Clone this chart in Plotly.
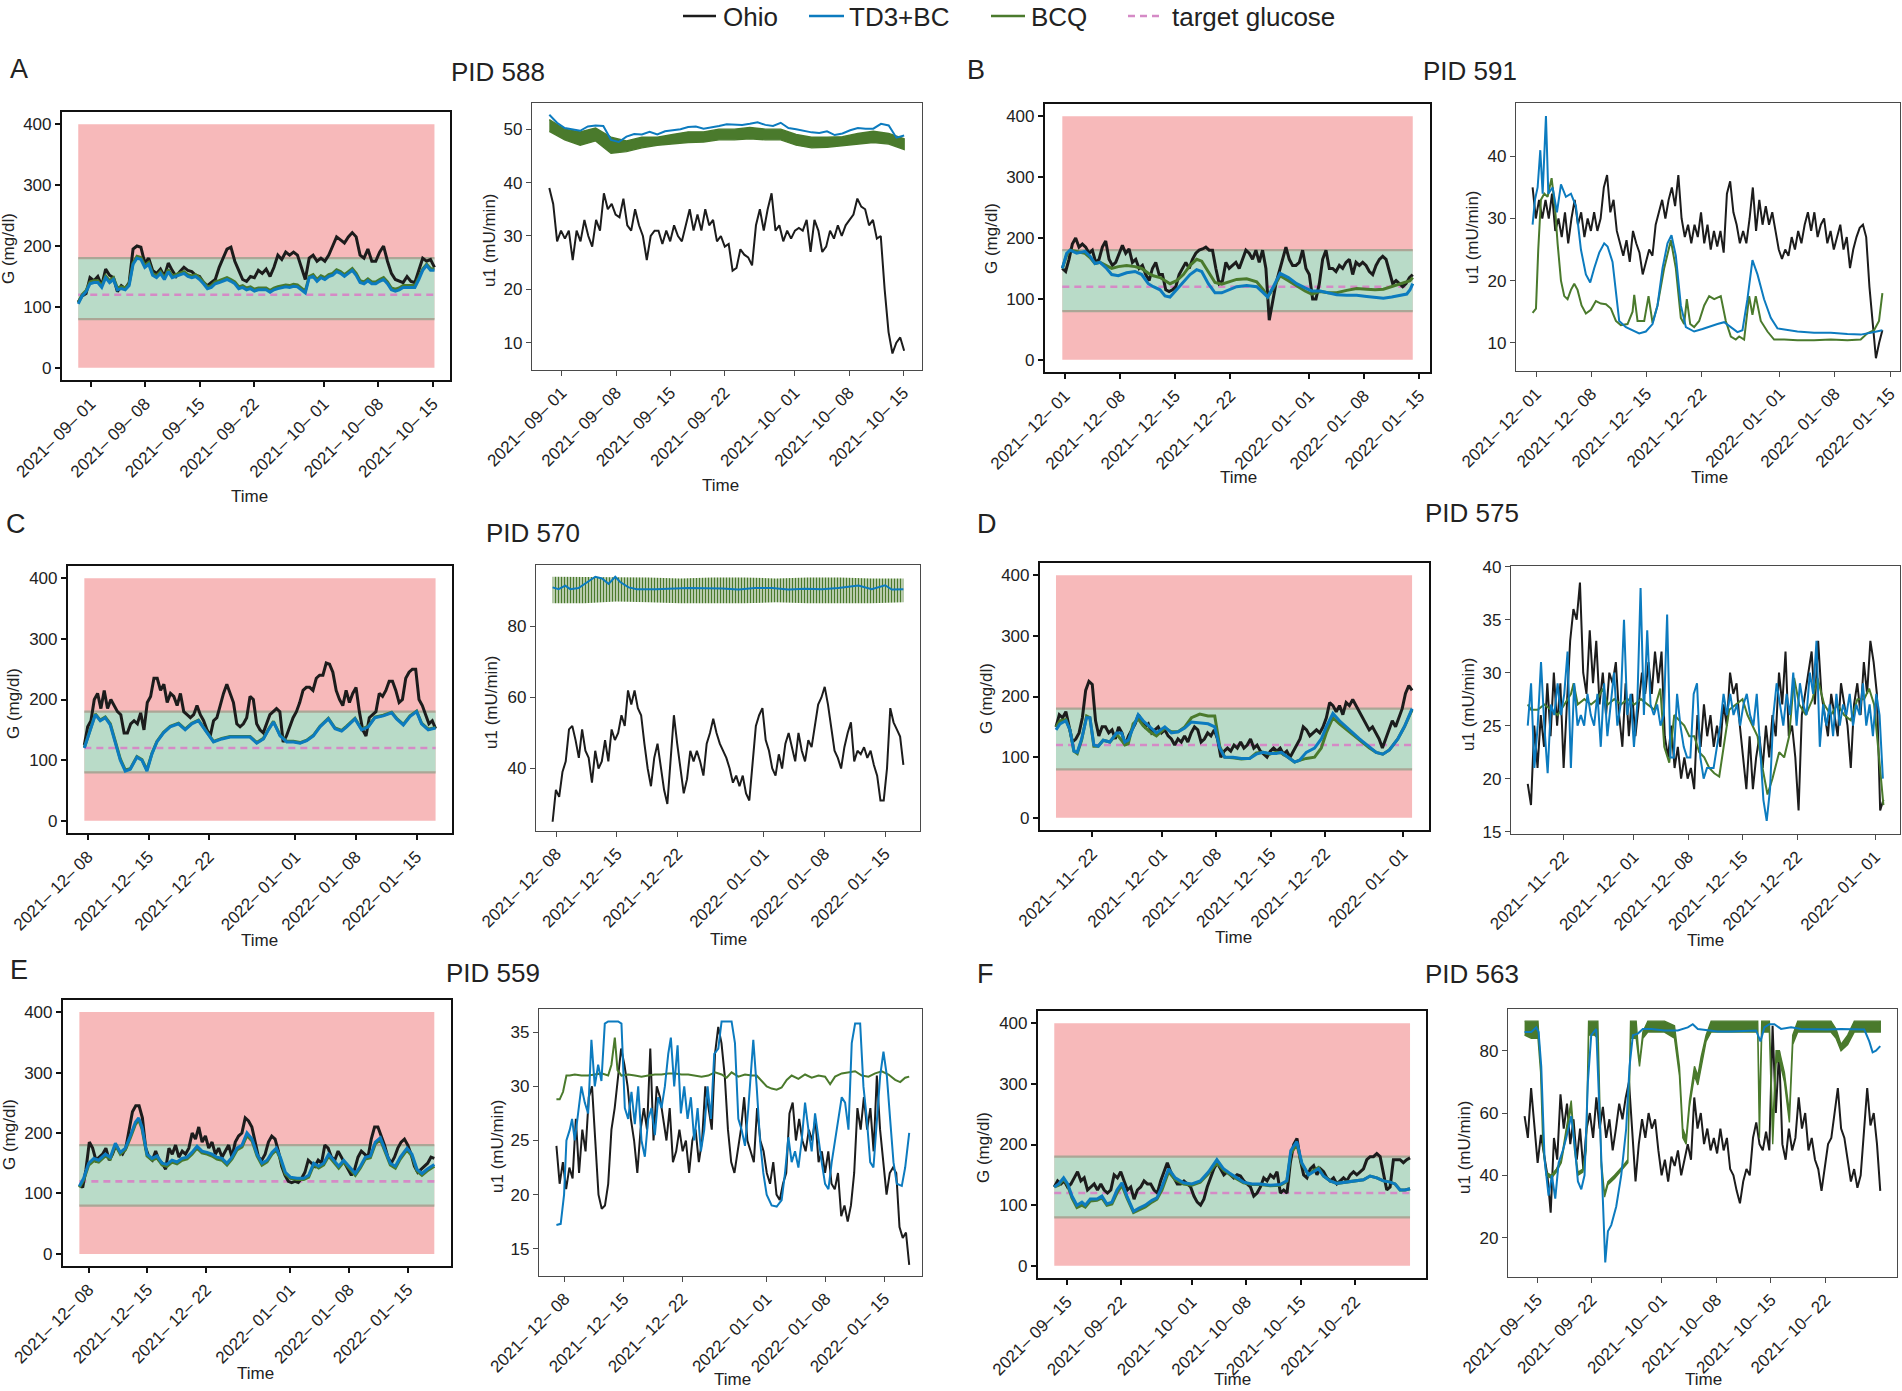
import numpy as np
import pandas as pd
import plotly.graph_objects as go

# ======================= DATA =======================
TARGET_G = 120          # target glucose (mg/dl)
G_SAFE = (80, 180)      # safe glucose band
G_FULL = (0, 400)       # glucose range shaded

# ---------- Panel A : PID 588 ----------
A_base = "2021-09-01"
A_ticks = ["2021-09-01", "2021-09-08", "2021-09-15", "2021-09-22", "2021-10-01", "2021-10-08", "2021-10-15"]
A_G_span = (-1.6, 44.2)
A_G_ohio = [108,118,122,148,143,150,135,162,152,148, 125,135,130,140,195,200,198,172,180,160,
            155,162,150,172,160,150,158,165,160,158, 152,150,140,135,140,145,165,180,195,198,
            175,160,145,142,150,148,160,155,162,150, 165,185,178,190,185,190,185,165,145,180,
            185,175,180,175,185,200,215,210,205,215, 222,215,185,180,195,175,175,190,200,175,
            155,145,142,140,150,142,140,160,180,175, 178,165]
A_G_td3 = [105,118,125,138,140,140,132,148,140,145, 128,130,128,135,170,180,178,165,170,152,
           148,155,145,158,148,150,152,155,150,148, 150,145,138,130,132,138,140,142,145,142,
           138,130,132,128,130,126,128,128,128,124, 128,130,132,133,132,134,133,128,123,148,
           150,142,148,145,150,152,158,155,150,155, 160,152,140,138,143,138,138,142,145,138,
           128,126,128,132,132,132,132,145,160,168, 160,160]
A_G_bcq = [107,120,127,141,143,143,135,151,143,148, 131,133,131,138,172,183,181,168,173,155,
           151,158,148,161,151,153,155,158,153,151, 153,148,141,133,135,141,143,145,148,145,
           141,133,135,131,133,129,131,131,131,127, 131,133,135,136,135,137,136,131,126,150,
           153,145,151,148,153,155,161,158,153,158, 163,155,143,141,146,141,141,145,148,141,
           131,129,131,135,135,135,135,148,162,170, 163,162]
A_U_span = (-1.6, 44.1)
A_U_ohio = [39,36,29,31,29.5,31,25.5,31,29,33, 30,28,33,31,38,35,36,34,33.5,37,
            32,31,35,32,30,25.5,30,31,31,28.5, 31,29,32,30,29,32,35,31,34,31,
            35,32,33,29,30,28,28.5,23.5,24,27.5, 26.5,26,24.5,32,35,31,35,38,31,32,
            29,31,29.5,31,31.5,31,33,27,33,31, 27,28,31,29.5,32,30,32,33,34,37,
            35.5,35,32,33,29.5,30,20,12,8,10, 11,8.5]
A_U_td3 = [52.7,51.2,50.2,50.0,49.7,50.5,50.7,50.6,48.0,47.6, 48.6,49.1,49.0,49.5,49.0,49.6,49.8,50.0,50.4,50.5,
           50.1,50.3,50.6,50.9,50.9,50.8,51.0,51.3,50.8,50.6, 51.2,50.2,50.0,49.7,49.4,49.3,49.6,48.9,49.2,49.8,
           50.2,50.1,50.1,51.0,50.7,48.4,48.8]
A_U_bcq_hi = [51.8,50.0,49.5,50.2,48.5,47.8,48.5,48.5,49.0,49.5,49.5,50.0,50.0,50.3,50.0,50.0,49.0,48.5,48.5,48.6,49.2,49.6,49.2,48.2]
A_U_bcq_lo = [49.6,48.0,47.0,47.8,45.5,45.8,46.5,47.0,47.2,47.5,47.6,48.0,48.0,48.2,48.0,48.0,47.0,46.5,46.6,46.8,47.2,47.5,47.2,46.2]

# ---------- Panel B : PID 591 ----------
B_base = "2021-12-01"
B_ticks = ["2021-12-01", "2021-12-08", "2021-12-15", "2021-12-22", "2022-01-01", "2022-01-08", "2022-01-15"]
B_G_span = (-0.34, 44.16)
B_G_ohio = [150,145,165,190,200,185,190,185,175,180, 160,165,185,195,165,155,160,175,188,175,
            182,160,165,150,155,140,130,150,160,140, 140,115,112,115,120,140,150,160,150,165,
            175,180,182,185,180,180,150,125,130,160, 150,155,160,150,165,180,175,165,180,160,
            180,150,65,95,125,145,165,185,165,155, 155,160,180,150,140,100,100,125,165,180,
            150,150,145,155,150,160,165,140,160,155, 160,155,145,140,155,165,170,165,145,125,
            130,125,120,125,135,140]
B_G_t = [-0.34,0.21,0.64,1.48,2.54,3.18,3.81,4.45,5.29,5.93, 6.77,7.83,8.89,9.74,10.58,11.22,12.07,12.70,13.34,14.18,
         15.03,15.88,16.72,17.36,18.20,19.05,19.90,20.74,21.80,23.07, 24.34,25.19,25.74,26.46,27.31,28.37,29.42,30.48,31.33,32.39,
         33.45,34.50,35.77,37.04,38.31,39.37,40.43,41.49,42.55,43.40, 43.82,44.16]
B_G_td3 = [150,175,180,175,178,170,158,160,150,140, 138,143,145,140,125,120,115,105,103,115,
           128,140,148,145,125,110,110,115,120,122, 120,110,103,120,142,135,125,118,113,113,
           110,107,106,106,104,102,101,103,106,108, 115,125]
B_G_bcq = [150,172,180,178,175,168,158,160,155,150, 153,155,153,150,142,138,135,130,125,130,
           140,155,165,162,145,127,124,128,132,133, 128,115,103,118,138,130,122,113,108,112,
           110,110,114,117,116,115,116,120,125,128, 130,135]
B_U_span = (-0.47, 44.03)
B_U_ohio = [35,30,33,30,33,30,34,28,30,27, 31,26,30,33,29,31,27,30,28,31,
            28,30,35,37,31,33,28,26,24,26.5, 23,28,26,24.5,21,23,25,24,29,31,
            33,30,33,35,32,37,30,27,29,26, 29,27,31,26,29,25,28,25.5,28,24.5,
            34,36,31,29,26,28,26,30,35,28, 33,29,32,29,31,28,25,23.5,25,24,
            27,25,28,26,29,31,28,31,27,29, 30,26,28,25,27,29,25,27,22,25,
            27,28.5,29,27,19,13,7.5,10,12]
B_U_td3_t = [-0.47,-0.17,0.17,0.51,0.81,1.23,1.53,2.08,2.63,3.14, 3.77,4.41,5.04,5.68,6.31,6.86,7.37,8.01,8.64,9.07,
             9.70,10.13,10.55,11.40,12.25,13.09,13.94,14.79,15.42,16.06, 16.69,17.20,17.75,18.39,19.03,20.08,21.14,22.20,23.05,23.90,
             24.75,25.59,26.23,26.86,27.50,28.14,28.98,29.83,30.68,31.95, 33.22,35.34,37.46,39.58,41.27,42.54,44.03]
B_U_td3 = [29,33,35,41,34,46.5,34,35,31,35.5, 33.5,34,32,25,21,19.7,22,24.5,26,25.5,
           23,18,13.5,12.5,12,11.5,11.8,13,16,22, 26,27.3,24,16,12.5,11.8,12.2,12.7,13,13.3,
           12.5,11.7,12,17,23.3,21,17,14,12.3,12, 11.8,11.6,11.6,11.4,11.3,11.6,12]
B_U_bcq_t = [-0.47,-0.04,0.25,0.59,1.02,1.44,1.95,2.37,2.71,3.14, 3.56,3.98,4.41,4.83,5.25,5.76,6.31,6.95,7.58,8.22,
             8.86,9.49,10.13,10.76,11.61,12.25,12.46,12.88,13.73,14.28, 14.79,15.42,16.27,17.12,17.75,18.39,18.81,19.15,19.58,20.08,
             20.72,21.36,21.99,22.63,23.47,24.11,24.75,25.38,25.81,26.44, 27.08,27.50,27.92,28.56,29.41,30.25,31.53,33.22,35.34,37.46,
             39.58,41.27,42.12,42.97,43.60,44.03]
B_U_bcq = [14.8,15.5,25,33,34,33.5,36.5,32,26,20, 17.5,17,18.5,19.5,18.5,16,14.7,15.3,16.7,16.3,
           16.2,15.5,13.5,12.8,13,15,17.7,13.5,13.5,17.5, 13.2,16,22,26.5,22,14,13,17,13,12.5,
           13.5,16,17.5,17,17.5,13.5,11,10.5,11,10.5, 17.5,14.5,17.5,13.5,11.8,10.5,10.5,10.4,10.4,10.5,
           10.4,10.5,11.5,12,13.5,18]

# ---------- Panel C : PID 570 ----------
C_base = "2021-12-08"
C_ticks = ["2021-12-08", "2021-12-15", "2021-12-22", "2022-01-01", "2022-01-08", "2022-01-15"]
C_G_span = (-0.42, 40.2)
C_G_ohio = [125,155,165,200,210,185,215,185,200,190, 180,175,145,145,160,165,160,178,150,195,
            205,235,235,215,225,195,210,205,190,210, 180,175,170,175,190,175,165,150,140,165,
            170,190,210,225,210,195,160,155,160,170, 205,200,160,150,145,160,175,180,185,180,
            130,140,155,170,180,195,215,220,220,215, 235,240,240,260,258,245,215,200,190,215,
            195,210,220,180,150,140,170,175,180,210, 205,215,230,230,215,195,200,235,245,250,
            250,200,190,175,160,165,152]
C_G_t = [-0.42,0.27,0.85,1.42,2.00,2.58,3.16,3.74,4.31,4.89, 5.66,6.24,6.82,7.39,7.97,8.74,9.51,10.47,11.24,12.01,
         12.78,13.55,14.52,15.48,16.44,17.60,18.75,19.52,20.29,20.87, 21.45,22.22,22.99,23.76,24.53,25.30,26.07,26.84,27.80,28.57,
         29.34,29.92,30.88,31.65,32.42,33.19,34.15,35.12,35.69,36.47, 37.24,38.01,38.58,39.35,40.20]
C_G_td3 = [120,150,175,165,170,158,130,100,82,85, 105,100,82,110,130,145,155,160,150,160,
           165,150,130,135,138,138,138,128,135,150, 163,140,130,130,128,132,140,155,168,152,
           148,155,168,150,155,170,173,178,168,158, 172,180,160,150,153]
C_G_bcq = [121,152,176,166,171,160,132,102,84,86, 106,101,84,111,131,146,156,161,151,161,
           166,151,131,136,139,139,139,129,136,151, 164,141,131,131,129,133,141,156,169,153,
           149,156,169,151,156,171,174,179,169,159, 173,181,161,151,154]
C_U_span = (-0.42, 40.12)
C_U_ohio = [25,34,32,39,42,51,52,48,43,51, 45,43,36,45,40,42,48,42,51,48,
            50,55,52,62,58,62,57,55,47,40, 35,43,47,40,34,30,42,55,47,40,
            33,37,45,42,45,42,38,47,50,54, 50,47,45,43,40,36,38,35,38,33,
            31,42,52,55,57,48,45,40,38,44, 40,47,50,46,42,50,45,42,48,46,
            52,58,60,63,58,52,45,43,40,46, 50,53,42,45,44,46,43,45,41,38,
            31,31,40,57,53,51,49,41]
C_U_td3_t = [-0.42,0.27,1.04,1.62,2.58,3.54,4.51,5.28,6.05,6.82,7.39,8.36,9.32,11.44,15.29,19.14,21.06,22.99,24.91,26.84,28.76,30.69,32.61,34.93,36.46,38.01,38.78,40.12]
C_U_td3 = [91,90.5,91.5,90.5,90.8,92.5,94,93.5,92,94,92.5,91,90.5,90.5,90.8,90.7,90.4,90.8,90.8,90.4,90.6,90.5,90.8,91.5,90.5,91.6,90.4,90.5]
C_U_bcq_hi = [94,94,94,93.8,93.5,93.8,93.8,93.5,93.8,93.8,93.5,93.5]
C_U_bcq_lo = [86.5,86.5,87,86.8,86.5,86.5,86.5,86.8,86.5,86.5,86.5,86.8]

# ---------- Panel D : PID 575 ----------
D_base = "2021-11-22"
D_ticks = ["2021-11-22", "2021-12-01", "2021-12-08", "2021-12-15", "2021-12-22", "2022-01-01"]
D_G_span = (-4.67, 41.2)
D_G_ohio = [150,170,165,175,150,125,130,140,165,210, 225,220,160,135,150,150,140,145,130,150,
            140,120,135,145,155,170,160,150,155,140, 145,150,140,145,135,130,120,130,125,135,
            125,140,150,145,125,130,140,135,145,130, 100,110,115,110,120,115,125,115,120,130,
            115,120,110,105,100,110,115,110,115,105, 110,100,110,120,130,150,145,135,140,145,
            140,150,165,190,185,175,185,170,190,185, 195,185,175,165,155,145,150,140,130,115,
            130,145,160,150,165,180,205,218,210]
D_G_t = [-4.67,-4.16,-3.39,-2.87,-2.36,-1.93,-1.37,-0.73,-0.30,0.21, 0.77,1.41,2.27,3.13,3.77,4.20,4.63,5.27,5.92,6.56,
         7.42,8.27,9.35,10.20,11.06,11.92,12.78,13.85,14.92,15.78, 16.42,17.06,18.13,19.21,20.28,21.14,21.99,22.85,23.71,24.35,
         25.21,26.07,26.71,27.57,28.64,29.50,30.14,31.00,31.85,33.14, 34.43,35.71,36.57,37.43,38.28,39.36,40.21,41.20]
D_G_td3 = [145,155,160,145,110,108,130,165,165,120, 118,128,125,140,140,125,128,150,170,160,
           150,140,150,140,142,148,158,157,155,150, 115,100,100,98,98,105,108,106,106,108,
           100,92,95,108,115,130,150,172,160,145, 130,117,108,105,112,130,150,180]
D_G_bcq = [150,160,162,145,110,106,128,168,165,118, 118,128,125,138,128,120,122,155,163,152,
           142,135,148,142,142,150,165,171,168,168, 118,100,99,97,98,107,108,105,108,107,
           100,92,95,98,100,115,140,165,155,142, 128,115,108,105,112,130,150,178]
D_U_span = (-4.62, 41.07)
D_U_ohio = [19.5,17.5,25,21,26,23,29,24,30,25, 29,21,27,33,36,35,38.5,30,28,34,
            29,33,27,30,26,30,29,31,26,23, 29,24,28,24,27,30,28,31,28,32,
            29,32,24,22,25,21,23,20,22,20, 21,19,26,23,27,24,26,23,25,23,
            27,25,30,28,29,25,22,19,24,19, 22,24,21,25,22,26,24,30,27,32,
            24,25,22,17,26,28,30,32,27,33, 28,26,24,28,26,24,29,27,25,21,
            27,29,26,31,28,33,31,28,17,18]
D_U_td3_span = (-4.62, 41.0)
D_U_td3 = [25,29,21,25,31,25,20.5,27,26,29, 26,28,32,21,29,25,26,25,28,26,
           25,28,23,29,24,27,30,25,27,35, 26,28,23,27,38,26,34,27,26,27,
           25,26,35.5,22,22,28,25,23,22,22, 28,29,22,20,21,21,21,23,25,28,
           26,28,26,27,25,27,28,26,25,28, 23,18,16,19,26,29,27,25,28,26,
           30,25,29,27,26,30,28,33,23,27, 25,27,24,28,25,27,26,28,25,27,
           26,29,25,27,24,28,26,20]
D_U_bcq_t = [-4.62,-4.19,-3.34,-2.48,-1.63,-0.77,0.09,0.94,1.28,1.80, 2.65,3.51,4.36,5.01,5.65,6.50,7.36,8.21,9.07,9.93,
             10.78,11.64,12.41,12.92,13.56,14.20,14.84,15.49,16.13,16.77, 17.41,18.05,18.70,19.34,19.98,20.62,21.26,22.12,22.97,23.61,
             24.26,24.90,25.54,26.18,26.82,27.68,28.32,28.96,29.60,30.25, 31.10,31.96,32.60,33.46,34.31,35.17,36.02,36.88,37.73,38.59,
             39.23,39.87,40.51,41.07]
D_U_bcq = [27,26.5,26.5,27,26.5,26,27,28,29,27, 27.5,27,27.5,28.5,27,27.5,27,27.5,27,27.5,
           27,26.5,28.5,23,21.5,26,25.5,25,24,24, 22.5,22,21,20.5,20.2,23.5,26.5,27,27.5,26,
           25,24,21,18.5,20,22.5,22,24,29.5,27, 26,27.5,29.5,27,26,27,26,25.5,27.5,27.5,
           28.5,27,22,17.5]

# ---------- Panel E : PID 559 ----------
E_base = "2021-12-08"
E_ticks = ["2021-12-08", "2021-12-15", "2021-12-22", "2022-01-01", "2022-01-08", "2022-01-15"]
E_G_span = (-1.11, 41.18)
E_G_ohio = [115,110,140,185,175,155,160,165,175,155, 165,180,170,165,175,205,235,245,245,225,
            175,160,155,170,155,150,140,175,165,180, 160,170,165,175,200,190,210,185,195,175,
            185,165,175,160,170,180,160,185,195,200, 225,220,210,185,160,155,165,185,195,190,
            170,145,130,120,118,120,118,125,135,155, 150,145,155,150,180,175,160,155,170,160,
            150,140,130,140,160,170,165,160,190,210, 210,195,180,160,150,160,175,185,190,180,
            165,145,135,140,145,150,160,158]
E_G_t = [-1.11,-0.60,0.00,0.60,1.19,1.99,2.58,3.18,3.77,4.37, 4.96,5.56,5.96,6.35,6.95,7.55,8.14,8.74,9.33,9.93,
         10.52,11.12,11.72,12.31,12.91,13.50,14.10,14.69,15.29,15.89, 16.48,17.08,17.67,18.27,18.86,19.46,20.06,20.65,21.25,21.84,
         22.36,22.84,23.43,24.03,24.82,25.62,26.21,26.81,27.40,28.00, 28.59,29.19,29.79,30.38,30.98,31.77,32.37,32.96,33.56,34.15,
         34.75,35.35,35.94,36.54,37.13,37.93,38.52,39.12,39.71,40.31, 41.18]
E_G_td3 = [112,125,150,158,155,165,160,183,168,175, 195,218,225,210,165,158,162,150,148,155,
           152,158,160,168,178,170,168,165,160,158, 150,160,175,180,200,190,165,150,155,168,
           175,160,135,127,125,125,130,150,145,150, 165,155,145,155,145,133,145,160,162,185,
           192,170,150,145,160,175,165,140,133,140, 148]
E_G_bcq = [110,122,147,154,152,162,157,180,165,172, 192,214,222,207,162,155,159,147,145,152,
           149,155,157,165,175,167,165,162,157,155, 147,157,172,177,196,187,162,147,152,165,
           172,157,132,125,123,123,127,147,142,147, 162,152,142,152,142,130,142,157,159,182,
           189,167,147,142,157,172,162,137,130,137, 145]
E_U_span = (-0.99, 40.94)
E_U_ohio = [24.5,21,23,20.5,22.5,21.5,27,22,26,24, 29,30,25,20,18.7,19,21,26,28,31,
            33.5,32,30,27,25,22,26,28,26,33.5, 25,30,29,27,25,28,23,24,26,24,
            25,22,25,26,23,25,30,28,26,33, 35.5,34,31,26,23,22,24,26,29,25,
            24,23,28,25,24,22,21,23,20,19.5, 21,22,27.5,28.5,25,27,25,24,26,25,
            27,23,24,22,24,21,20.5,22,18,19, 17.5,19,22,28,26,29,26,28,24,31,
            26,23,20,22,22.5,22,17,16,16.5,13.5]
E_U_td3_t = [-0.99,-0.48,-0.08,0.20,0.60,0.87,1.19,1.59,1.98,2.38, 2.78,3.17,3.57,3.97,4.36,4.76,5.16,5.75,6.35,6.74,
             7.14,7.54,7.93,8.33,8.73,9.12,9.52,9.92,10.31,10.71, 11.11,11.50,11.90,12.30,12.61,13.01,13.41,13.80,14.20,14.60,
             14.99,15.39,15.79,16.18,16.58,16.98,17.37,17.77,18.25,18.64, 19.24,19.83,20.23,20.63,21.02,21.42,21.82,22.41,22.81,23.21,
             23.60,24.00,24.59,25.19,25.78,26.18,26.58,26.97,27.37,27.77, 28.16,28.56,28.96,29.35,29.75,30.15,30.54,30.94,31.34,31.73,
             32.13,32.53,32.92,33.32,33.72,34.11,34.51,35.11,35.50,35.90, 36.30,36.69,37.09,37.49,37.88,38.28,38.67,39.07,39.47,40.06,
             40.46,40.94]
E_U_td3 = [17.2,17.3,20,25,26,27,25,27.5,30,28.5, 27.5,34.3,30,32,30.5,35.8,36,36,36,35.8,
           28,27,29.5,26.5,30,25,23.5,27,28,25.5, 29,28,30,33,34.5,30,33.8,27.5,30,27,
           29,25,28,24,26,30,27,33,33.5,36, 36,36,34,27,26,24.5,28,34.3,30,25,
           22,20,19,18.9,19.5,22,25.3,23,24,22.5, 25,28.5,26,24,27.5,25,23,21,20.5,23,
           25,27,29,28.5,26,34,35.8,35.8,30,27, 23,22.5,27,31,33.2,31,27,23,21,20.8,
           22.5,25.7]
E_U_bcq_t = [-0.99,-0.60,-0.20,0.20,0.60,1.19,1.98,2.78,3.57,4.36, 5.16,5.55,5.95,6.27,6.74,7.54,8.33,9.12,9.92,10.71,
             11.50,12.30,13.09,13.88,14.68,15.47,16.26,17.06,17.85,18.64, 19.24,19.83,20.63,21.42,22.21,22.81,23.40,24.00,24.59,25.19,
             25.78,26.38,26.97,27.77,28.56,29.35,30.15,30.94,31.54,32.13, 32.92,33.72,34.51,35.30,36.10,36.89,37.68,38.48,39.27,39.87,
             40.46,40.94]
E_U_bcq = [28.8,28.8,29.5,31,31,31.1,31,31,31.1,31.2, 31,32,34.5,31.5,31,31.1,31,30.9,31,31.1,
           31.1,31.2,31.2,31.1,31.1,31,30.9,31,31.3,31.1, 30.8,31.3,30.9,31.1,31,31,30.5,30,29.8,29.7,
           29.9,30.6,31,30.7,31.1,30.8,31,30.9,30.2,30.9, 31.2,31.3,31.4,31,30.9,31.2,31.4,31.1,30.6,30.4,
           30.8,30.9]

# ---------- Panel F : PID 563 ----------
F_base = "2021-09-15"
F_ticks = ["2021-09-15", "2021-09-22", "2021-10-01", "2021-10-08", "2021-10-15", "2021-10-22"]
F_G_span = (-1.63, 44.05)
F_G_ohio = [130,140,135,140,130,135,145,155,140,145, 125,130,135,125,135,125,120,125,150,145,
            155,140,125,130,110,125,130,140,135,135, 125,120,140,155,170,155,145,135,135,140,
            135,130,115,105,100,110,130,145,160,170, 160,150,155,150,145,150,148,140,135,130,
            115,120,130,145,140,150,145,155,120,125, 120,170,200,210,175,150,145,160,165,150,
            160,155,145,140,145,135,140,145,140,150, 155,150,155,160,175,180,180,185,180,150,
            125,130,175,175,175,170,175,178]
F_G_t = [-1.63,-1.07,-0.43,0.09,0.64,1.28,1.92,2.35,2.99,3.85, 4.49,5.13,5.77,6.42,7.06,7.70,8.55,9.20,10.05,10.91,
         11.55,12.19,13.05,13.90,14.97,16.04,17.11,18.18,19.25,20.10, 20.96,21.81,22.67,23.74,24.81,26.09,27.37,28.23,28.74,29.51,
         30.15,31.01,31.65,32.29,32.93,33.79,34.65,35.93,37.21,38.07, 38.92,39.78,40.63,41.49,42.13,42.77,43.41,44.05]
F_G_td3 = [130,135,145,135,115,100,105,100,110,110, 115,102,105,125,137,115,90,95,100,108,
           112,130,160,145,137,135,140,155,175,160, 152,145,138,135,135,133,134,140,190,205,
           170,150,155,160,148,140,136,138,140,142, 148,145,140,138,135,125,125,127]
F_G_bcq = [130,133,143,133,112,96,100,97,107,108, 112,100,102,120,133,112,88,92,97,105,
           110,125,155,142,135,133,138,152,170,158, 150,143,137,134,134,132,133,139,185,200,
           168,150,157,162,148,140,136,138,140,142, 148,145,140,138,135,125,125,127]
F_U_span = (-1.63, 44.05)
F_U_ohio = [59,52,68,55,44,53,46,40,28,52, 45,66,55,63,50,58,45,55,42,55,
            60,52,65,55,62,52,58,48,55,63, 58,65,70,55,38,50,58,52,60,55,
            58,48,40,45,38,46,43,48,40,45, 50,45,65,55,60,50,55,48,52,47,
            55,48,52,42,40,35,31,38,42,40, 52,57,50,48,54,48,88,60,80,50,
            45,55,48,52,65,55,60,48,52,45, 42,35,42,50,52,60,68,55,52,45,
            38,42,36,40,55,68,56,60,50,35]
F_U_td3_t = [-1.63,-0.77,-0.13,0.17,0.51,0.94,1.45,1.88,2.31,2.74, 3.29,3.72,4.36,4.79,5.22,5.65,6.07,6.50,6.93,7.57,
             8.00,8.43,8.73,9.07,9.50,10.14,10.78,11.42,11.85,12.28, 12.92,13.56,14.63,16.34,18.05,19.33,19.97,20.62,21.90,23.18,
             24.89,26.60,28.10,28.66,29.17,29.81,30.45,31.31,32.59,33.87, 35.59,37.30,39.01,40.72,42.00,42.64,43.07,43.50,44.05]
F_U_td3 = [86,86,87.5,86,75,45,33.5,40,32.5,44, 48,52,59,50,38,35.5,40,70,85,87,
           60,30,12,22,24,30,40,55,75,85, 85.5,87,87,86.5,86.5,87.5,88.5,87,86.5,86.2,
           86.2,86.3,86.5,83,87.5,88.5,88.5,87,87.5,87, 86.8,86.8,87,87,86.8,83,79.5,80,81.5]
F_U_bcq_t = [-1.63,-0.77,0.09,0.43,0.73,1.15,1.80,2.44,3.08,3.72, 4.36,4.79,5.22,5.86,6.29,6.59,7.36,7.78,8.21,8.64,
             9.07,9.92,10.99,11.63,11.98,12.70,13.13,13.56,14.20,16.34, 17.62,18.26,18.69,19.12,19.55,20.19,20.62,21.04,21.68,22.33,
             24.89,28.31,28.53,28.83,29.17,29.81,30.24,30.67,31.09,31.74, 32.38,32.81,33.45,35.59,37.72,38.37,39.01,39.87,40.72,42.00,
             44.05]
F_U_bcq_hi = [89.5,89.5,89.5,75,50,41,40,42,45,55, 64,50,41,42,50,89.5,89.5,89.5,45,34,
              38,40,43,45,89.5,89.5,76,86,89.5,89.5, 88,75,55,52,64,75,72,78,85,89.5,
              89.5,89.5,60,89.5,89.5,89.5,55,80,80,73, 60,85,89.5,89.5,89.5,87,82,85,89.5,89.5,
              89.5]
F_U_bcq_lo = [85,84,84,73,49,40,39,41,44,53, 62,48,40,41,48,85,85,84,43,33,
              37,39,42,44,84,84,75,84,86,86, 84,72,52,50,62,72,69,75,83,86,
              86,86,52,86,86,86,50,76,77,70, 57,82,86,86,86,84,80,82,86,86,
              86]

# ======================= STYLE / LAYOUT =======================
W, H = 1902, 1391
FONT = "Liberation Sans, Arial, Helvetica, sans-serif"
TXT = "#222222"
C_OHIO = "#1c1c1c"
C_TD3 = "#0c7bbf"
C_BCQ = "#4a7a2c"
C_TGT = "#d58ac6"
C_RED = "#f7b9ba"
C_GREEN = "#b9dbc8"
C_EDGE = "#aba696"


def when(base, days):
    return pd.Timestamp(base) + pd.to_timedelta(np.asarray(days, dtype=float), unit="D")


def grid(span, vals):
    return np.linspace(span[0], span[1], len(vals))


def pair(t, v):
    n = min(len(t), len(v))
    return list(t)[:n], list(v)[:n]


def label(d):
    return d.replace("-", "\u2013 ")


# panel geometry in pixels: (left, right, top, bottom), x-range in days, y-range
panels = [
    dict(letter="A", title="PID 588", base=A_base, ticks=A_ticks,
         G=dict(box=(62, 450, 112, 380), xr=(-3.69, 46.2)),
         U=dict(box=(532, 922, 103, 370), xr=(-3.83, 46.4), yr=(4.9, 54.9), yt=[10, 20, 30, 40, 50]),
         let_xy=(19, 69), tit_xy=(498, 72),
         gx=(250, 496), gy=(9, 249), ux=(720, 485), uy=(489, 240)),
    dict(letter="B", title="PID 591", base=B_base, ticks=B_ticks,
         G=dict(box=(1045, 1430, 104, 372), xr=(-2.54, 46.35)),
         U=dict(box=(1516, 1900, 103, 371), xr=(-2.58, 46.27), yr=(5.44, 48.6), yt=[10, 20, 30, 40]),
         let_xy=(976, 70), tit_xy=(1470, 71),
         gx=(1238, 477), gy=(991, 239), ux=(1709, 477), uy=(1473, 237)),
    dict(letter="C", title="PID 570", base=C_base, ticks=C_ticks,
         G=dict(box=(68, 452, 566, 833), xr=(-2.31, 42.1)),
         U=dict(box=(536, 920, 565, 831), xr=(-2.34, 42.04), yr=(22.4, 97.3), yt=[40, 60, 80]),
         let_xy=(16, 524), tit_xy=(533, 533),
         gx=(259, 940), gy=(13, 704), ux=(728, 939), uy=(492, 702)),
    dict(letter="D", title="PID 575", base=D_base, ticks=D_ticks,
         G=dict(box=(1040, 1429, 563, 830), xr=(-6.73, 43.38)),
         U=dict(box=(1511, 1900, 566, 834), xr=(-6.77, 43.2), yr=(14.77, 40.07), yt=[15, 20, 25, 30, 35, 40]),
         let_xy=(987, 524), tit_xy=(1472, 513),
         gx=(1233, 937), gy=(986, 699), ux=(1705, 940), uy=(1468, 704)),
    dict(letter="E", title="PID 559", base=E_base, ticks=E_ticks,
         G=dict(box=(63, 451, 1000, 1266), xr=(-3.06, 43.17)),
         U=dict(box=(539, 922, 1009, 1276), xr=(-3.06, 42.46), yr=(12.48, 37.15), yt=[15, 20, 25, 30, 35]),
         let_xy=(19, 970), tit_xy=(493, 973),
         gx=(255, 1373), gy=(9, 1135), ux=(732, 1379), uy=(497, 1146)),
    dict(letter="F", title="PID 563", base=F_base, ticks=F_ticks,
         G=dict(box=(1038, 1426, 1011, 1278), xr=(-3.72, 46.1)),
         U=dict(box=(1508, 1897, 1009, 1277), xr=(-3.76, 46.2), yr=(7.34, 93.4), yt=[20, 40, 60, 80]),
         let_xy=(985, 974), tit_xy=(1472, 974),
         gx=(1232, 1379), gy=(983, 1148), ux=(1703, 1379), uy=(1464, 1147)),
]

# series per panel ("bcqband" = fast-oscillating BCQ dose drawn as its min/max envelope;
# last two entries = stripe solidity, outline flag)
series = {
    "A": dict(
        G_span=A_G_span,
        G=[("ohio", grid(A_G_span, A_G_ohio), A_G_ohio), ("bcq", grid(A_G_span, A_G_bcq), A_G_bcq), ("td3", grid(A_G_span, A_G_td3), A_G_td3)],
        U=[("ohio", grid(A_U_span, A_U_ohio), A_U_ohio), ("bcqband", grid(A_U_span, A_U_bcq_hi), A_U_bcq_hi, A_U_bcq_lo, 1.0, True),
           ("td3", grid(A_U_span, A_U_td3), A_U_td3)]),
    "B": dict(
        G_span=B_G_span,
        G=[("ohio", grid(B_G_span, B_G_ohio), B_G_ohio), ("bcq", B_G_t, B_G_bcq), ("td3", B_G_t, B_G_td3)],
        U=[("ohio", grid(B_U_span, B_U_ohio), B_U_ohio), ("bcq", B_U_bcq_t, B_U_bcq), ("td3", B_U_td3_t, B_U_td3)]),
    "C": dict(
        G_span=C_G_span,
        G=[("ohio", grid(C_G_span, C_G_ohio), C_G_ohio), ("bcq", C_G_t, C_G_bcq), ("td3", C_G_t, C_G_td3)],
        U=[("ohio", grid(C_U_span, C_U_ohio), C_U_ohio), ("bcqband", grid(C_U_span, C_U_bcq_hi), C_U_bcq_hi, C_U_bcq_lo, 0.6, False),
           ("td3", C_U_td3_t, C_U_td3)]),
    "D": dict(
        G_span=D_G_span,
        G=[("ohio", grid(D_G_span, D_G_ohio), D_G_ohio), ("bcq", D_G_t, D_G_bcq), ("td3", D_G_t, D_G_td3)],
        U=[("ohio", grid(D_U_span, D_U_ohio), D_U_ohio), ("bcq", D_U_bcq_t, D_U_bcq), ("td3", grid(D_U_td3_span, D_U_td3), D_U_td3)]),
    "E": dict(
        G_span=E_G_span,
        G=[("ohio", grid(E_G_span, E_G_ohio), E_G_ohio), ("bcq", E_G_t, E_G_bcq), ("td3", E_G_t, E_G_td3)],
        U=[("ohio", grid(E_U_span, E_U_ohio), E_U_ohio), ("bcq", E_U_bcq_t, E_U_bcq), ("td3", E_U_td3_t, E_U_td3)]),
    "F": dict(
        G_span=F_G_span,
        G=[("ohio", grid(F_G_span, F_G_ohio), F_G_ohio), ("bcq", F_G_t, F_G_bcq), ("td3", F_G_t, F_G_td3)],
        U=[("ohio", grid(F_U_span, F_U_ohio), F_U_ohio), ("bcqband", F_U_bcq_t, F_U_bcq_hi, F_U_bcq_lo, 1.0, True),
           ("td3", F_U_td3_t, F_U_td3)]),
}

COLORS = {"ohio": C_OHIO, "td3": C_TD3, "bcq": C_BCQ}

fig = go.Figure()
layout = dict(width=W, height=H, margin=dict(l=0, r=0, t=0, b=0, pad=0, autoexpand=False),
              paper_bgcolor="white", plot_bgcolor="white", showlegend=False,
              font=dict(family=FONT, size=17, color=TXT))
shapes = []
annotations = []


def px_x(x):
    return x / W


def px_y(y):
    return 1 - y / H


def add_text(x, y, text, size, angle=0, anchor="center"):
    annotations.append(dict(x=px_x(x), y=px_y(y), xref="paper", yref="paper", text=text,
                            showarrow=False, xanchor=anchor, yanchor="middle", textangle=angle,
                            borderpad=0, font=dict(family=FONT, size=size, color=TXT)))


ax_i = 0
for p in panels:
    s = series[p["letter"]]
    base = p["base"]
    tickvals = [pd.Timestamp(d) for d in p["ticks"]]
    ticktext = [label(d) for d in p["ticks"]]
    for kind in ("G", "U"):
        ax_i += 1
        spec = p[kind]
        l, r, t, b = spec["box"]
        xa = "x" if ax_i == 1 else f"x{ax_i}"
        ya = "y" if ax_i == 1 else f"y{ax_i}"
        xr = [str(v) for v in when(base, spec["xr"])]
        if kind == "G":
            yr = [-20, 420]
            yt = [0, 100, 200, 300, 400]
            lc, lw, tw = "#111111", 2.2, 1.6
            wline = 3.0
        else:
            yr = list(spec["yr"])
            yt = spec["yt"]
            lc, lw, tw = "#4a4a4a", 1.3, 1.3
            wline = 2.0
        layout["xaxis" + ("" if ax_i == 1 else str(ax_i))] = dict(
            domain=[px_x(l), px_x(r)], anchor=ya, type="date", range=xr, automargin=False,
            tickmode="array", tickvals=tickvals, ticktext=ticktext, tickangle=-45,
            ticks="outside", ticklen=5, tickwidth=tw, tickcolor=lc,
            showline=True, linecolor=lc, linewidth=lw, mirror=True,
            showgrid=False, zeroline=False, tickfont=dict(family=FONT, size=17, color=TXT))
        layout["yaxis" + ("" if ax_i == 1 else str(ax_i))] = dict(
            domain=[px_y(b), px_y(t)], anchor=xa, range=yr, automargin=False,
            tickmode="array", tickvals=yt,
            ticks="outside", ticklen=5, tickwidth=tw, tickcolor=lc,
            showline=True, linecolor=lc, linewidth=lw, mirror=True,
            showgrid=False, zeroline=False, tickfont=dict(family=FONT, size=17, color=TXT))

        if kind == "G":
            span = s["G_span"]
            x0, x1 = [str(v) for v in when(base, span)]
            shapes.append(dict(type="rect", xref=xa, yref=ya, x0=x0, x1=x1, y0=G_FULL[0], y1=G_FULL[1],
                               fillcolor=C_RED, line=dict(width=0), layer="below"))
            shapes.append(dict(type="rect", xref=xa, yref=ya, x0=x0, x1=x1, y0=G_SAFE[0], y1=G_SAFE[1],
                               fillcolor=C_GREEN, line=dict(width=0), layer="below"))
            for yv in G_SAFE:
                shapes.append(dict(type="line", xref=xa, yref=ya, x0=x0, x1=x1, y0=yv, y1=yv,
                                   line=dict(color=C_EDGE, width=2.2), layer="below"))
            # target glucose
            fig.add_trace(go.Scatter(x=when(base, list(span)), y=[TARGET_G, TARGET_G], mode="lines",
                                     line=dict(color=C_TGT, width=2.6, dash="7px,5px"),
                                     xaxis=xa, yaxis=ya, hoverinfo="skip"))
            items = s["G"]
        else:
            items = s["U"]

        for it in items:
            name = it[0]
            if name == "bcqband":
                tt, hi = pair(it[1], it[2])
                tt2, lo = pair(it[1], it[3])
                solidity, outline = it[4], it[5]
                xs = list(when(base, tt)) + list(when(base, tt2))[::-1]
                ys = list(hi) + list(lo)[::-1]
                kw = dict(fillcolor=C_BCQ) if solidity >= 1 else dict(
                    fillcolor="rgba(0,0,0,0)",
                    fillpattern=dict(shape="|", fgcolor=C_BCQ, size=3, solidity=solidity, fillmode="replace"))
                fig.add_trace(go.Scatter(x=xs, y=ys, mode="lines", fill="toself",
                                         line=dict(color=C_BCQ, width=(1.4 if outline else 0)),
                                         xaxis=xa, yaxis=ya, hoverinfo="skip", **kw))
            else:
                tt, vv = pair(it[1], it[2])
                fig.add_trace(go.Scatter(x=when(base, tt), y=vv, mode="lines",
                                         line=dict(color=COLORS[name], width=wline),
                                         xaxis=xa, yaxis=ya, hoverinfo="skip"))

    # texts
    add_text(*p["let_xy"], p["letter"], 27)
    add_text(*p["tit_xy"], p["title"], 26)
    add_text(*p["gx"], "Time", 17)
    add_text(*p["ux"], "Time", 17)
    add_text(*p["gy"], "G (mg/dl)", 17, angle=-90)
    add_text(*p["uy"], "u1 (mU/min)", 17, angle=-90)

# legend (drawn manually at the top)
LEG_Y = 17
legend_items = [("Ohio", C_OHIO, "solid", 683, 716, 722),
                ("TD3+BC", C_TD3, "solid", 809, 844, 848),
                ("BCQ", C_BCQ, "solid", 991, 1025, 1030),
                ("target glucose", C_TGT, "dash", 1128, 1164, 1171)]
for name, col, dash, lx0, lx1, tx in legend_items:
    shapes.append(dict(type="line", xref="paper", yref="paper", x0=px_x(lx0), x1=px_x(lx1),
                       y0=px_y(LEG_Y - 1), y1=px_y(LEG_Y - 1),
                       line=dict(color=col, width=2.6, dash=("7px,5px" if dash == "dash" else "solid"))))
    add_text(tx, LEG_Y, name, 26, anchor="left")

layout["shapes"] = shapes
layout["annotations"] = annotations
fig.update_layout(**layout)
fig.write_html("out.html", post_script="document.body.style.margin='0';")
